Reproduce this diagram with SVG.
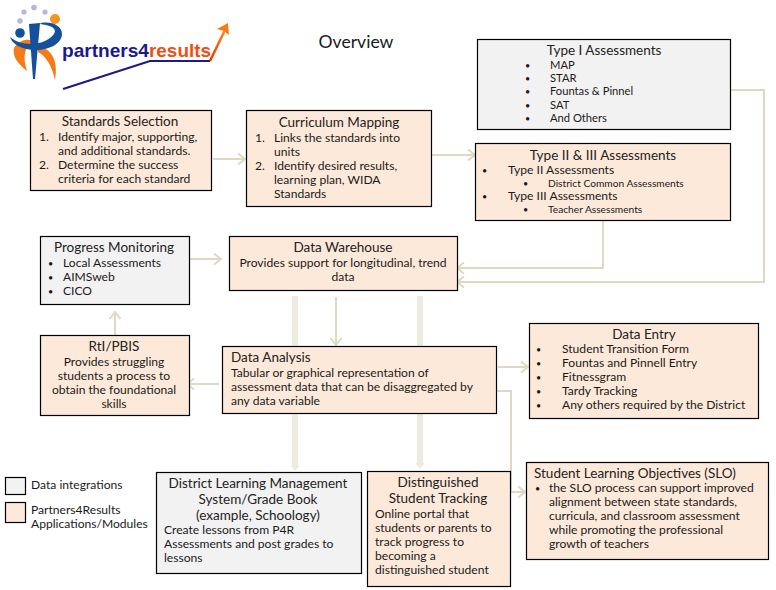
<svg xmlns="http://www.w3.org/2000/svg" width="776" height="590" viewBox="0 0 776 590">
<style>
text{font-family:"Lato","Open Sans","Liberation Sans",sans-serif;font-size:12.1px;fill:#1a1a1a}
.t{font-size:13.5px;fill:#222}
.m{text-anchor:middle}
.s{font-size:10.2px}
.n{font-size:11.2px}
.b{font-size:9px}
.o{fill:#fde9d9;stroke:#000;stroke-width:1.2}
.g{fill:#f2f2f2;stroke:#000;stroke-width:1.2}
.c{fill:none;stroke:#ddd9c3;stroke-width:2}
.w{fill:none;stroke:#eeece1;stroke-width:6}
</style>
<defs>
<marker id="a" markerUnits="userSpaceOnUse" markerWidth="12" markerHeight="14" refX="10" refY="7" orient="auto"><path d="M3 1.500L10 7L3 12.500" fill="none" stroke="#ddd9c3" stroke-width="2"/></marker>
<marker id="f" markerUnits="userSpaceOnUse" markerWidth="10" markerHeight="10" refX="0" refY="5" orient="auto"><path d="M0 0L6 5L0 10Z" fill="#eeece1"/></marker>
<linearGradient id="arr" x1="0" y1="1" x2="1" y2="0"><stop offset="0" stop-color="#e03a00"/><stop offset="1" stop-color="#ff8a1e"/></linearGradient>
</defs>
<g id="connectors">
<path class="w" d="M295 296V465" marker-end="url(#f)"/>
<path class="w" d="M420 296V463" marker-end="url(#f)"/>
<path class="c" d="M213 159H245" marker-end="url(#a)"/>
<path class="c" d="M432 155H475" marker-end="url(#a)"/>
<path class="c" d="M603 221V268H457" marker-end="url(#a)"/>
<path class="c" d="M731 90H764V282H457" marker-end="url(#a)"/>
<path class="c" d="M190 259H221" marker-end="url(#a)"/>
<path class="c" d="M336 297V345" marker-end="url(#a)"/>
<path class="c" d="M219 384H187" marker-end="url(#a)"/>
<path class="c" d="M115 335V312" marker-end="url(#a)"/>
<path class="c" d="M498 367H528" marker-end="url(#a)"/>
<path class="c" d="M497 391H511V492H525" marker-end="url(#a)"/>
</g>
<g id="logo">
<circle cx="24" cy="12" r="2.600" fill="#b9b6dc"/><circle cx="34" cy="7.500" r="2.800" fill="#b9b6dc"/><circle cx="45" cy="12" r="2.600" fill="#b9b6dc"/><circle cx="20" cy="21" r="2.800" fill="#b9b6dc"/>
<circle cx="55" cy="19" r="5" fill="#f7941d"/><circle cx="20" cy="33" r="4.800" fill="#14509c"/>
<path d="M14 48C20 39 30 38 33 42C25 46 22 56 27 71C18 64 12 56 14 48Z" fill="#f47b16"/>
<path d="M38 47C50 47 59 60 55 80C52 66 46 56 38 52Z" fill="#f47b16"/>
<path d="M10 37C20 46 40 46 50 38C58 32 56 27 46 25L40 24L41 23C52 21 62 26 62 34C62 43 50 50 36 50C22 50 12 44 10 37Z" fill="#14509c"/>
<path d="M29 24L40 23L35 79H33Z" fill="#14509c"/>
<path d="M63 89L150 61H210" fill="none" stroke="#1a1a8c" stroke-width="2.200"/>
<path d="M210 61L225 30" fill="none" stroke="url(#arr)" stroke-width="2.500"/>
<path d="M217 29L228 23L229 35L224 31Z" fill="#f47b16"/>
<text x="62" y="57" style="font-family:'Liberation Sans',sans-serif;font-size:19px;font-weight:700;fill:#1a1a8c" textLength="87" lengthAdjust="spacingAndGlyphs">partners4</text>
<text x="149" y="57" style="font-family:'Liberation Sans',sans-serif;font-size:19px;font-weight:700;fill:#f04e10" textLength="62" lengthAdjust="spacingAndGlyphs">results</text>
</g>
<g id="title"><text x="356" y="48" class="m" style="font-size:17.6px">Overview</text></g>
<g id="standards-selection"><rect class="o" x="30.500" y="110.500" width="181" height="80"/>
<text class="t m" x="120" y="126">Standards Selection</text>
<text x="39" y="141">1.</text><text x="58" y="141">Identify major, supporting,</text><text x="58" y="155">and additional standards.</text>
<text x="39" y="169">2.</text><text x="58" y="169">Determine the success</text><text x="58" y="183">criteria for each standard</text></g>
<g id="curriculum-mapping"><rect class="o" x="246.500" y="110.500" width="185" height="96"/>
<text class="t m" x="339" y="127">Curriculum Mapping</text>
<text x="255" y="142">1.</text><text x="274" y="142">Links the standards into</text><text x="274" y="156">units</text>
<text x="255" y="170">2.</text><text x="274" y="170">Identify desired results,</text><text x="274" y="184">learning plan, WIDA</text><text x="274" y="198">Standards</text></g>
<g id="type-1"><rect class="g" x="477.500" y="39.500" width="253" height="90"/>
<text class="t m" x="604" y="55">Type I Assessments</text>
<text class="b" x="525" y="69">•</text><text class="n" x="550" y="69">MAP</text>
<text class="b" x="525" y="82">•</text><text class="n" x="550" y="82">STAR</text>
<text class="b" x="525" y="95">•</text><text class="n" x="550" y="95">Fountas &amp; Pinnel</text>
<text class="b" x="525" y="109">•</text><text class="n" x="550" y="109">SAT</text>
<text class="b" x="525" y="122">•</text><text class="n" x="550" y="122">And Others</text></g>
<g id="type-2-3"><rect class="o" x="475.500" y="143.500" width="255" height="77"/>
<text class="t m" x="603" y="160">Type II &amp; III Assessments</text>
<text class="b" x="482" y="174">•</text><text x="508" y="174">Type II Assessments</text>
<text class="b" x="523" y="187">•</text><text x="548" y="187" class="s">District Common Assessments</text>
<text class="b" x="482" y="200">•</text><text x="508" y="200">Type III Assessments</text>
<text class="b" x="523" y="213">•</text><text x="548" y="213" class="s">Teacher Assessments</text></g>
<g id="progress-monitoring"><rect class="g" x="40.500" y="236.500" width="149" height="68"/>
<text class="t m" x="114" y="252">Progress Monitoring</text>
<text class="b" x="48" y="267">•</text><text x="63" y="267">Local Assessments</text>
<text class="b" x="48" y="281">•</text><text x="63" y="281">AIMSweb</text>
<text class="b" x="48" y="295">•</text><text x="63" y="295">CICO</text></g>
<g id="data-warehouse"><rect class="o" x="229.500" y="236.500" width="228" height="54"/>
<text class="t m" x="343" y="252">Data Warehouse</text>
<text class="m" x="343" y="267">Provides support for longitudinal, trend</text>
<text class="m" x="343" y="281">data</text></g>
<g id="rti-pbis"><rect class="o" x="40.500" y="335.500" width="149" height="80"/>
<text class="t m" x="114" y="351">RtI/PBIS</text>
<text class="m" x="114" y="366">Provides struggling</text><text class="m" x="114" y="380">students a process to</text><text class="m" x="114" y="394">obtain the foundational</text><text class="m" x="114" y="408">skills</text></g>
<g id="data-analysis"><rect class="o" x="222.500" y="346.500" width="274" height="67"/>
<text class="t" x="231" y="362">Data Analysis</text>
<text x="231" y="377">Tabular or graphical representation of</text>
<text x="231" y="391">assessment data that can be disaggregated by</text>
<text x="231" y="405">any data variable</text></g>
<g id="data-entry"><rect class="o" x="529.500" y="323.500" width="229" height="95"/>
<text class="t m" x="644" y="339">Data Entry</text>
<text class="b" x="536" y="353">•</text><text x="562" y="353">Student Transition Form</text>
<text class="b" x="536" y="367">•</text><text x="562" y="367">Fountas and Pinnell Entry</text>
<text class="b" x="536" y="381">•</text><text x="562" y="381">Fitnessgram</text>
<text class="b" x="536" y="395">•</text><text x="562" y="395">Tardy Tracking</text>
<text class="b" x="536" y="409">•</text><text x="562" y="409">Any others required by the District</text></g>
<g id="legend"><rect class="g" x="5.500" y="477.500" width="20" height="17"/><rect class="o" x="5.500" y="502.500" width="20" height="20"/>
<text x="31" y="489">Data integrations</text><text x="31" y="514">Partners4Results</text><text x="31" y="528">Applications/Modules</text></g>
<g id="lms"><rect class="g" x="156.500" y="472.500" width="205" height="101"/>
<text class="t m" x="258" y="488">District Learning Management</text>
<text class="t m" x="258" y="504">System/Grade Book</text>
<text class="t m" x="258" y="520">(example, Schoology)</text>
<text x="164" y="534">Create lessons from P4R</text><text x="164" y="548">Assessments and post grades to</text><text x="164" y="562">lessons</text></g>
<g id="distinguished"><rect class="o" x="367.500" y="471.500" width="143" height="115"/>
<text class="t m" x="438" y="487">Distinguished</text><text class="t m" x="438" y="503">Student Tracking</text>
<text x="375" y="518">Online portal that</text><text x="375" y="532">students or parents to</text><text x="375" y="546">track progress to</text><text x="375" y="560">becoming a</text><text x="375" y="574">distinguished student</text></g>
<g id="slo"><rect class="o" x="526.500" y="462.500" width="242" height="97"/>
<text class="t" x="534" y="478">Student Learning Objectives (SLO)</text>
<text class="b" x="535" y="492">•</text><text x="549" y="492">the SLO process can support improved</text>
<text x="549" y="506">alignment between state standards,</text><text x="549" y="520">curricula, and classroom assessment</text><text x="549" y="534">while promoting the professional</text><text x="549" y="548">growth of teachers</text></g>
</svg>
